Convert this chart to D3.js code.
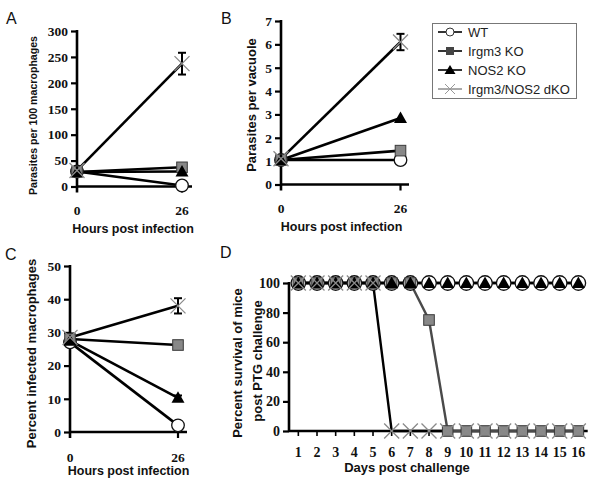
<!DOCTYPE html>
<html><head><meta charset="utf-8">
<script src="https://cdn.jsdelivr.net/npm/d3@7"></script>
<style>body{margin:0;background:#fff}svg{display:block}</style>
</head><body>
<svg id="c" width="600" height="485"></svg>
<script>
// ---------- data ----------
const series = ["WT", "Irgm3 KO", "NOS2 KO", "Irgm3/NOS2 dKO"];
const markerTypes = ["circle", "square", "triangle", "x"];
const hours = [0, 26];

// Panel A: parasites per 100 macrophages
const aWT = [29, 2], aIrgm3 = [28, 37], aNOS2 = [28, 29], aDKO = [31, 237];
const aErrDKO = [4, 21], aErrIrgm3 = [2, 3];
const aTicks = [0, 50, 100, 150, 200, 250, 300];

// Panel B: parasites per vacuole
const bWT = [1.05, 1.05], bIrgm3 = [1.05, 1.45], bNOS2 = [1.05, 2.85], bDKO = [1.1, 6.1];
const bErrDKO = [0.08, 0.35];
const bTicks = [0, 1, 2, 3, 4, 5, 6, 7];

// Panel C: percent infected macrophages
const cWT = [27, 2], cIrgm3 = [28, 26.2], cNOS2 = [27.5, 10.3], cDKO = [28.5, 38];
const cErrDKO = [1.2, 2.3], cErrIrgm3 = [0.8, 1.1], cErrNOS2 = [0.8, 0.7], cErrWT = [0.8, 0.5];
const cTicks = [0, 10, 20, 30, 40, 50];

// Panel D: survival
const days = [1,2,3,4,5,6,7,8,9,10,11,12,13,14,15,16];
const dWT    = [100,100,100,100,100,100,100,100,100,100,100,100,100,100,100,100];
const dIrgm3 = [100,100,100,100,100,100,100,75,0,0,0,0,0,0,0,0];
const dNOS2  = [100,100,100,100,100,100,100,100,100,100,100,100,100,100,100,100];
const dDKO   = [100,100,100,100,100,0,0,0,0,0,0,0,0,0,0,0];
const dTicks = [0, 20, 40, 60, 80, 100];

// ---------- helpers ----------
const svg = d3.select("#c");
const SERIF = "'Liberation Serif','Times New Roman',serif";
const SANS = "'Liberation Sans',Arial,sans-serif";

function marker(g, type, x, y, s) {
  s = s || 1;
  if (type === "circle") {
    g.append("circle").attr("cx", x).attr("cy", y).attr("r", 6.3 * s)
      .attr("fill", "#fff").attr("stroke", "#111").attr("stroke-width", 1.3);
  } else if (type === "square") {
    const h = 5.3 * s;
    g.append("rect").attr("x", x - h).attr("y", y - h).attr("width", 2 * h).attr("height", 2 * h)
      .attr("fill", "#888").attr("stroke", "#3a3a3a").attr("stroke-width", 1);
  } else if (type === "triangle") {
    const w = 6.5 * s, t = 6.5 * s, b = 5 * s;
    g.append("path").attr("d", `M${x},${y - t}L${x + w},${y + b}L${x - w},${y + b}Z`)
      .attr("fill", "#000");
  } else {
    const h = 7.5 * s;
    g.append("path").attr("d", `M${x - h},${y - h}L${x + h},${y + h}M${x - h},${y + h}L${x + h},${y - h}`)
      .attr("stroke", "#8a8a8a").attr("stroke-width", 1.3).attr("fill", "none");
  }
}

function yAxis(g, y, ticks, x0, yTop, yBottom, fs) {
  const ax = d3.axisLeft(y).tickValues(ticks).tickFormat(d3.format("d"))
    .tickSize(6).tickSizeOuter(0).tickPadding(3);
  const a = g.append("g").attr("transform", `translate(${x0},0)`).call(ax)
    .attr("font-family", null).attr("font-size", null);
  a.select(".domain").remove();
  a.selectAll(".tick line").attr("stroke", "#000").attr("stroke-width", 2.2);
  a.selectAll(".tick text").style("font-family", SERIF).style("font-weight", "bold")
    .style("font-size", fs + "px").attr("fill", "#111");
  g.append("line").attr("x1", x0).attr("x2", x0).attr("y1", yTop - 1).attr("y2", yBottom)
    .attr("stroke", "#000").attr("stroke-width", 2.6);
}

function xAxisLine(g, y0, xStart, xEnd) {
  g.append("line").attr("x1", xStart).attr("x2", xEnd).attr("y1", y0).attr("y2", y0)
    .attr("stroke", "#000").attr("stroke-width", 2.6);
}

function errBar(g, x, y, v, e, cap) {
  const y1 = y(v - e), y2 = y(v + e);
  g.append("line").attr("x1", x).attr("x2", x).attr("y1", y1).attr("y2", y2)
    .attr("stroke", "#000").attr("stroke-width", 2);
  [y1, y2].forEach(yy => g.append("line").attr("x1", x - cap).attr("x2", x + cap)
    .attr("y1", yy).attr("y2", yy).attr("stroke", "#000").attr("stroke-width", 2));
}

function text(g, str, x, y, opts) {
  const t = g.append("text").attr("x", x).attr("y", y).text(str)
    .style("font-family", opts.family || SANS).style("font-size", (opts.size || 13) + "px")
    .style("font-weight", opts.weight || "bold").attr("fill", opts.fill || "#111")
    .attr("text-anchor", opts.anchor || "middle");
  if (opts.rotate) t.attr("transform", `rotate(-90,${x},${y})`);
  return t;
}

// time-course panel (A, B, C)
function timePanel(cfg) {
  const g = svg.append("g");
  const x = d3.scaleLinear().domain([0, 26]).range(cfg.xr);
  const y = d3.scaleLinear().domain([0, cfg.ymax]).range(cfg.yr);
  const y0 = y(0);
  yAxis(g, y, cfg.ticks, x(0), y(cfg.ymax), y0 + 6, 13.5);
  xAxisLine(g, y0, x(0), cfg.xEnd);
  g.append("line").attr("x1", x(26)).attr("x2", x(26)).attr("y1", y0).attr("y2", y0 + 6)
    .attr("stroke", "#000").attr("stroke-width", 2.2);
  hours.forEach(h => text(g, String(h), x(h), y0 + cfg.lblOff, { family: SERIF, size: 13.5 }));
  text(g, "Hours post infection", cfg.xtX, y0 + cfg.titleOff, { size: 12.5 });
  text(g, cfg.ytitle, cfg.ytX, cfg.ytY, { size: cfg.ytSize, rotate: true });
  text(g, cfg.letter, cfg.letterX, cfg.letterY, { weight: "normal", size: 16, anchor: "start" });
  const line = d3.line().x((d, i) => x(hours[i])).y(d => y(d));
  cfg.data.forEach(d => g.append("path").attr("d", line(d)).attr("fill", "none")
    .attr("stroke", "#000").attr("stroke-width", 2.6));
  cfg.errs.forEach(([k, e]) => hours.forEach((h, i) => errBar(g, x(h), y, cfg.data[k][i], e[i], 4)));
  cfg.data.forEach((d, k) => d.forEach((v, i) => marker(g, markerTypes[k], x(hours[i]), y(v))));
}

timePanel({ letter: "A", letterX: 6, letterY: 24, xr: [77, 182], xEnd: 192, yr: [186.5, 31], ymax: 300,
  ticks: aTicks, data: [aWT, aIrgm3, aNOS2, aDKO], errs: [[3, aErrDKO], [1, aErrIrgm3]],
  lblOff: 28.5, titleOff: 46, xtX: 133, ytitle: "Parasites per 100 macrophages", ytX: 37, ytY: 115.5, ytSize: 10.6 });

timePanel({ letter: "B", letterX: 221, letterY: 24, xr: [281, 400.5], xEnd: 409, yr: [184.5, 21], ymax: 7,
  ticks: bTicks, data: [bWT, bIrgm3, bNOS2, bDKO], errs: [[3, bErrDKO]],
  lblOff: 28.5, titleOff: 46, xtX: 341.5, ytitle: "Parasites per vacuole", ytX: 256, ytY: 105, ytSize: 13 });

timePanel({ letter: "C", letterX: 5, letterY: 260, xr: [70, 178], xEnd: 187, yr: [432, 266], ymax: 50,
  ticks: cTicks, data: [cWT, cIrgm3, cNOS2, cDKO],
  errs: [[3, cErrDKO], [1, cErrIrgm3], [2, cErrNOS2], [0, cErrWT]],
  lblOff: 30, titleOff: 43, xtX: 128.5, ytitle: "Percent infected macrophages", ytX: 36, ytY: 353.5, ytSize: 13 });

// ---------- Panel D ----------
(function () {
  const g = svg.append("g");
  const x = d3.scaleLinear().domain([0.5, 16.5]).range([289, 587.7]);
  const y = d3.scaleLinear().domain([0, 100]).range([431, 283]);
  yAxis(g, y, dTicks, x(0.5), y(100), y(0) + 1, 14);
  xAxisLine(g, y(0), x(0.5), x(16.5));
  days.forEach(dd => {
    g.append("line").attr("x1", x(dd)).attr("x2", x(dd)).attr("y1", y(0)).attr("y2", y(0) + 5)
      .attr("stroke", "#000").attr("stroke-width", 1.6);
    text(g, String(dd), x(dd), 457, { family: SERIF, size: 14 });
  });
  text(g, "Days post challenge", 407, 472, { size: 13 });
  text(g, "Percent survival of mice", 242, 363, { size: 13, rotate: true });
  text(g, "post PTG challenge", 262, 361, { size: 13, rotate: true });
  text(g, "D", 220, 258, { weight: "normal", size: 16, anchor: "start" });
  const line = d3.line().x((d, i) => x(days[i])).y(d => y(d));
  const cols = ["#000", "#4a4a4a", "#000", "#000"];
  const dd = [dWT, dIrgm3, dNOS2, dDKO];
  [3, 1, 0, 2].forEach(k => g.append("path").attr("d", line(dd[k])).attr("fill", "none")
    .attr("stroke", cols[k]).attr("stroke-width", 2.4));
  dd.forEach((d, k) => d.forEach((v, i) => marker(g, markerTypes[k], x(days[i]), y(v), k === 0 ? 1.15 : 1)));
})();

// ---------- Legend ----------
(function () {
  const g = svg.append("g");
  g.append("rect").attr("x", 432.5).attr("y", 23.5).attr("width", 144).attr("height", 75)
    .attr("fill", "#fff").attr("stroke", "#777").attr("stroke-width", 1);
  series.forEach((s, i) => {
    const yy = 32 + i * 19;
    g.append("line").attr("x1", 438).attr("x2", 462).attr("y1", yy).attr("y2", yy)
      .attr("stroke", i === 3 ? "#555" : "#000").attr("stroke-width", i === 3 ? 1 : 1.6);
    const t = markerTypes[i];
    if (t === "circle") g.append("circle").attr("cx", 450).attr("cy", yy).attr("r", 4)
      .attr("fill", "#fff").attr("stroke", "#333").attr("stroke-width", 1);
    else if (t === "square") g.append("rect").attr("x", 446).attr("y", yy - 4).attr("width", 8).attr("height", 8)
      .attr("fill", "#444");
    else if (t === "triangle") g.append("path").attr("d", `M450,${yy - 5}L455.5,${yy + 4}L444.5,${yy + 4}Z`).attr("fill", "#000");
    else g.append("path").attr("d", `M445,${yy - 5}L455,${yy + 5}M445,${yy + 5}L455,${yy - 5}`)
      .attr("stroke", "#999").attr("stroke-width", 1);
    text(g, s, 468, yy + 5, { weight: "normal", size: 13, anchor: "start", fill: "#222" });
  });
})();
</script>
</body></html>
